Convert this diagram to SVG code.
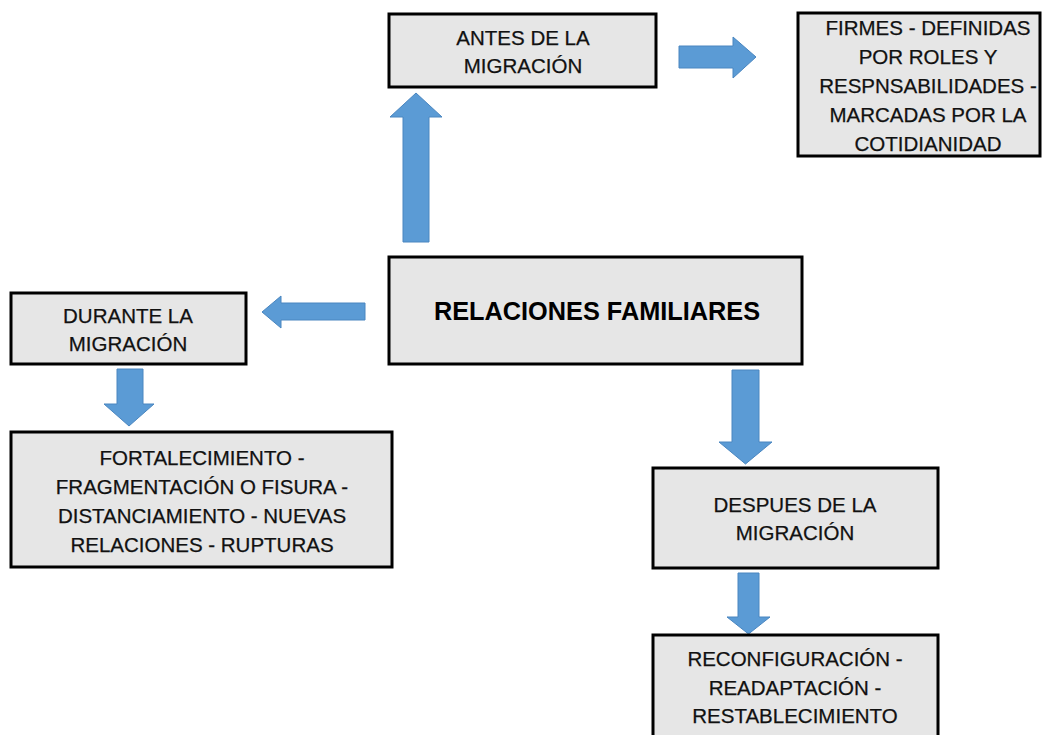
<svg xmlns="http://www.w3.org/2000/svg" width="1042" height="735" viewBox="0 0 1042 735">
<style>
.box{fill:#e6e6e6;stroke:#000;stroke-width:3}
.t{font-family:"Liberation Sans",Arial,sans-serif;font-size:20.5px;fill:#111;stroke:#111;stroke-width:0.25;text-anchor:middle}
.tb{font-family:"Liberation Sans",Arial,sans-serif;font-size:25.3px;font-weight:bold;fill:#000;text-anchor:middle}
.arr{fill:#5b9bd5;stroke:#4a86c0;stroke-width:1}
</style>
<rect width="1042" height="735" fill="#fff"/>
<g id="connectors">
<polygon class="arr" points="679,46 733,46 733,37 756,57 733,78 733,68 679,68"/>
<polygon class="arr" points="403,242 403,117 390,117 416,93 442,117 429,117 429,242"/>
<polygon class="arr" points="365,303 281,303 281,296 262,312 281,328 281,320 365,320"/>
<polygon class="arr" points="117,369 143,369 143,404 154,404 129,426 104,404 117,404"/>
<polygon class="arr" points="732,370 759,370 759,442 772,442 745.5,464 719,442 732,442"/>
<polygon class="arr" points="738,573 759,573 759,617 770,617 748.5,634 727,617 738,617"/>
</g>
<g id="antes">
<rect class="box" x="389" y="14" width="267" height="73"/>
<text class="t" x="523" y="45">ANTES DE LA</text>
<text class="t" x="523" y="73">MIGRACIÓN</text>
</g>
<g id="firmes">
<rect class="box" x="798" y="13" width="242" height="143"/>
<text class="t" x="928" y="35">FIRMES - DEFINIDAS</text>
<text class="t" x="928" y="64">POR ROLES Y</text>
<text class="t" x="928" y="93">RESPNSABILIDADES -</text>
<text class="t" x="928" y="122">MARCADAS POR LA</text>
<text class="t" x="928" y="151">COTIDIANIDAD</text>
</g>
<g id="relaciones">
<rect class="box" x="389" y="257" width="413" height="107"/>
<text class="tb" x="597" y="320">RELACIONES FAMILIARES</text>
</g>
<g id="durante">
<rect class="box" x="11" y="293" width="235" height="71"/>
<text class="t" x="128" y="323">DURANTE LA</text>
<text class="t" x="128" y="351">MIGRACIÓN</text>
</g>
<g id="fortalecimiento">
<rect class="box" x="11" y="432" width="381" height="135"/>
<text class="t" x="202" y="465">FORTALECIMIENTO -</text>
<text class="t" x="202" y="494">FRAGMENTACIÓN O FISURA -</text>
<text class="t" x="202" y="523">DISTANCIAMIENTO - NUEVAS</text>
<text class="t" x="202" y="552">RELACIONES - RUPTURAS</text>
</g>
<g id="despues">
<rect class="box" x="653" y="468" width="285" height="100"/>
<text class="t" x="795" y="512">DESPUES DE LA</text>
<text class="t" x="795" y="540">MIGRACIÓN</text>
</g>
<g id="reconfiguracion">
<rect class="box" x="653" y="635" width="285" height="110"/>
<text class="t" x="795" y="666">RECONFIGURACIÓN -</text>
<text class="t" x="795" y="695">READAPTACIÓN -</text>
<text class="t" x="795" y="723">RESTABLECIMIENTO</text>
</g>
</svg>
